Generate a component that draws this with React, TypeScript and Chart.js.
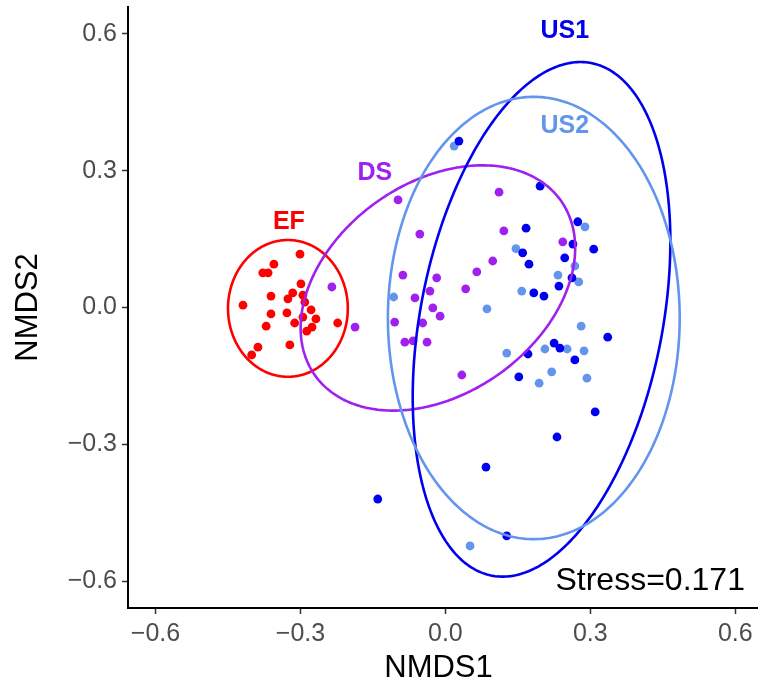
import React, { useEffect, useRef } from "react";
import { Chart, registerables } from "chart.js";

Chart.register(...registerables);

// ---- Data (NMDS scores) ----
const efX = [-0.301, -0.355, -0.378, -0.367, -0.299, -0.361, -0.316, -0.326, -0.295, -0.291, -0.419, -0.328, -0.361, -0.278, -0.268, -0.295, -0.312, -0.371, -0.276, -0.287, -0.223, -0.388, -0.322, -0.401];
const efY = [0.117, 0.095, 0.076, 0.076, 0.052, 0.025, 0.032, 0.019, 0.027, 0.012, 0.005, -0.012, -0.014, -0.005, -0.025, -0.021, -0.034, -0.041, -0.043, -0.052, -0.034, -0.087, -0.082, -0.104];

const dsX = [-0.098, -0.053, -0.088, -0.018, -0.235, -0.032, 0.042, -0.063, -0.026, -0.011, -0.187, -0.105, -0.047, -0.084, -0.067, -0.038, 0.034, 0.111, 0.121, 0.098, 0.065, 0.243];
const dsY = [0.236, 0.161, 0.071, 0.065, 0.045, 0.036, 0.041, 0.021, -0.001, -0.019, -0.043, -0.032, -0.034, -0.076, -0.073, -0.076, -0.148, 0.253, 0.168, 0.102, 0.078, 0.144];

const us1X = [0.028, 0.196, 0.167, 0.160, 0.173, 0.264, 0.247, 0.262, 0.274, 0.307, 0.183, 0.204, 0.235, 0.336, 0.171, 0.225, 0.237, 0.268, 0.152, 0.310, 0.231, 0.084, -0.140, 0.127];
const us1Y = [0.365, 0.266, 0.174, 0.120, 0.095, 0.139, 0.109, 0.065, 0.188, 0.128, 0.032, 0.025, 0.047, -0.065, -0.102, -0.078, -0.089, -0.115, -0.152, -0.229, -0.284, -0.350, -0.420, -0.501];

const us2X = [0.018, 0.146, 0.233, 0.268, 0.289, 0.276, 0.158, 0.086, 0.281, 0.127, 0.206, 0.252, 0.287, 0.220, 0.194, 0.293, 0.051, -0.107];
const us2Y = [0.354, 0.129, 0.071, 0.091, 0.177, 0.056, 0.036, -0.003, -0.041, -0.100, -0.091, -0.091, -0.095, -0.141, -0.166, -0.155, -0.523, 0.023];

// ---- Group ellipses (center, semi-axes, rotation in degrees) ----
const groupNames = ["EF", "DS", "US1", "US2"];
const groupColors = ["#FF0000", "#A020F0", "#0000EE", "#6495ED"];
const ellipseCx = [-0.326, -0.0155, 0.199, 0.183];
const ellipseCy = [-0.002, 0.0428, -0.026, -0.023];
const ellipseA = [0.124, 0.319, 0.5714, 0.302];
const ellipseB = [0.150, 0.2265, 0.251, 0.485];
const ellipseAngle = [0, 40.2, 79.9, 0];

// group label positions (data coords)
const labelX = [-0.324, -0.146, 0.247, 0.247];
const labelY = [0.1875, 0.295, 0.606, 0.398];

const xTicks = [-0.6, -0.3, 0.0, 0.3, 0.6];
const yTicks = [-0.6, -0.3, 0.0, 0.3, 0.6];
const stressText = "Stress=0.171";

const fmt = (v: number) => (v < 0 ? "\u2212" : "") + Math.abs(v).toFixed(1);
const toPts = (xs: number[], ys: number[]) => xs.map((x, i) => ({ x, y: ys[i] }));

const FONT = "'Liberation Sans', Arial, Helvetica, sans-serif";

const overlayPlugin = {
  id: "overlay",
  afterDatasetsDraw(chart: any) {
    const { ctx, scales } = chart;
    const xs = scales.x;
    const ys = scales.y;
    ctx.save();
    for (let g = 0; g < groupNames.length; g++) {
      const th = (ellipseAngle[g] * Math.PI) / 180;
      ctx.beginPath();
      for (let i = 0; i <= 360; i++) {
        const t = (i * Math.PI) / 180;
        const ex = ellipseA[g] * Math.cos(t);
        const ey = ellipseB[g] * Math.sin(t);
        const dx = ellipseCx[g] + ex * Math.cos(th) - ey * Math.sin(th);
        const dy = ellipseCy[g] + ex * Math.sin(th) + ey * Math.cos(th);
        const px = xs.getPixelForValue(dx);
        const py = ys.getPixelForValue(dy);
        if (i === 0) ctx.moveTo(px, py);
        else ctx.lineTo(px, py);
      }
      ctx.closePath();
      ctx.strokeStyle = groupColors[g];
      ctx.lineWidth = 2.6;
      ctx.stroke();
    }
    ctx.font = `bold 25px ${FONT}`;
    ctx.textAlign = "center";
    ctx.textBaseline = "middle";
    for (let g = 0; g < groupNames.length; g++) {
      ctx.fillStyle = groupColors[g];
      ctx.fillText(groupNames[g], xs.getPixelForValue(labelX[g]), ys.getPixelForValue(labelY[g]));
    }
    ctx.font = `32px ${FONT}`;
    ctx.fillStyle = "#000";
    ctx.textAlign = "right";
    ctx.fillText(stressText, xs.getPixelForValue(0.62), ys.getPixelForValue(-0.6));
    ctx.restore();
  },
  afterDraw(chart: any) {
    const { ctx, chartArea } = chart;
    ctx.save();
    ctx.fillStyle = "#000";
    ctx.font = `31px ${FONT}`;
    ctx.textAlign = "center";
    ctx.textBaseline = "middle";
    ctx.fillText("NMDS1", (chartArea.left + chartArea.right) / 2 - 4, 668);
    ctx.translate(28, (chartArea.top + chartArea.bottom) / 2);
    ctx.rotate(-Math.PI / 2);
    ctx.fillText("NMDS2", 0, 0);
    ctx.restore();
  },
};

export default function App() {
  const ref = useRef<HTMLCanvasElement | null>(null);
  useEffect(() => {
    if (!ref.current) return;
    const mk = (data: any[], color: string) => ({
      data,
      backgroundColor: color,
      borderWidth: 0,
      pointRadius: 4.4,
      pointHoverRadius: 4.4,
    });
    const chart = new Chart(ref.current, {
      type: "scatter",
      data: {
        datasets: [
          mk(toPts(efX, efY), groupColors[0]),
          mk(toPts(dsX, dsY), groupColors[1]),
          mk(toPts(us1X, us1Y), groupColors[2]),
          mk(toPts(us2X, us2Y), groupColors[3]),
        ],
      },
      options: {
        animation: false,
        responsive: true,
        maintainAspectRatio: false,
        layout: { padding: { top: 7, right: 6, left: 0, bottom: 0 } },
        plugins: { legend: { display: false }, tooltip: { enabled: false } },
        scales: {
          x: {
            type: "linear",
            min: -0.657,
            max: 0.645,
            afterBuildTicks: (s: any) => {
              s.ticks = xTicks.map((v) => ({ value: v }));
            },
            afterFit: (s: any) => {
              s.height = 83;
              s.paddingLeft = 0;
              s.paddingRight = 0;
            },
            ticks: {
              callback: (v: any) => fmt(Number(v)),
              color: "#4D4D4D",
              font: { family: FONT, size: 25 },
              padding: 5,
              maxRotation: 0,
            },
            grid: { drawOnChartArea: false, tickLength: 6, tickColor: "#333", tickWidth: 1.5 },
            border: { display: true, color: "#000", width: 2 },
          },
          y: {
            type: "linear",
            min: -0.659,
            max: 0.659,
            afterBuildTicks: (s: any) => {
              s.ticks = yTicks.map((v) => ({ value: v }));
            },
            afterFit: (s: any) => {
              s.width = 128;
              s.paddingTop = 0;
              s.paddingBottom = 0;
            },
            ticks: {
              callback: (v: any) => fmt(Number(v)),
              color: "#4D4D4D",
              font: { family: FONT, size: 25 },
              padding: 5,
            },
            grid: { drawOnChartArea: false, tickLength: 6, tickColor: "#333", tickWidth: 1.5 },
            border: { display: true, color: "#000", width: 2 },
          },
        },
      },
      plugins: [overlayPlugin],
    });
    return () => chart.destroy();
  }, []);
  return (
    <div style={{ position: "fixed", left: 0, top: 0, width: 763, height: 691, background: "#fff" }}>
      <canvas ref={ref} />
    </div>
  );
}
